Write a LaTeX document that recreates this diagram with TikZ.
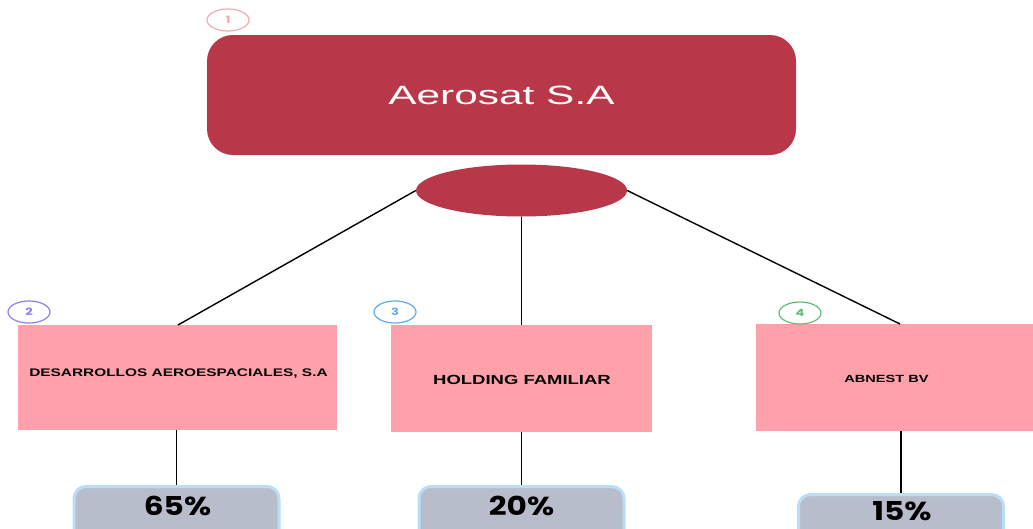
\documentclass[tikz,border=0pt]{standalone}
\usepackage{fontspec}
\setmainfont{Liberation Sans}
\newfontfamily\titlefont[FakeStretch=1.6]{Liberation Sans}
\newfontfamily\labelfont[FakeStretch=1.4]{Liberation Sans}
\newfontfamily\pctfont[FakeStretch=1.2]{Poppins}
\newfontfamily\badgefont[FakeStretch=1.3]{Poppins}
\usetikzlibrary{shapes.geometric}
\definecolor{mainred}{HTML}{B8384A}
\definecolor{pinkbox}{HTML}{FFA1AA}
\definecolor{pctfill}{HTML}{B8BDCC}
\definecolor{pctedge}{HTML}{BCDDF8}
\definecolor{badgeA}{HTML}{F7A9B4}
\definecolor{badgeB}{HTML}{8F80F2}
\definecolor{badgeC}{HTML}{5EABEF}
\definecolor{badgeD}{HTML}{5DBF78}
\tikzset{
  badge/.style={ellipse, draw=#1, text=#1, line width=1.2pt, minimum width=42pt, minimum height=22pt, inner sep=0pt, font=\badgefont\bfseries\fontsize{10}{10}\selectfont},
  entity/.style={rectangle, fill=pinkbox, draw=none, inner sep=0pt},
  elabel/.style={font=\labelfont\bfseries\fontsize{#1}{12}\selectfont},
  pct/.style={rectangle, rounded corners=12pt, fill=pctfill, draw=pctedge, line width=3pt, minimum width=205pt, minimum height=60pt, inner sep=0pt},
  plabel/.style={font=\pctfont\bfseries\fontsize{26}{26}\selectfont},
  link/.style={draw=black, line width=1.4pt}
}
\begin{document}
\begin{tikzpicture}[x=1pt,y=-1pt]
\useasboundingbox (0,0) rectangle (1033,528);
\clip (0,0) rectangle (1033,528);
\fill[white] (0,0) rectangle (1033,528);
% title
\node[rectangle, rounded corners=26pt, fill=mainred, minimum width=589pt, minimum height=120pt, inner sep=0pt, text=white, font=\titlefont\fontsize{26.5}{26.5}\selectfont] (title) at (501.5,95) {Aerosat S.A};
\node[badge=badgeA] (b1) at (228,20) {1};
% hub ellipse
\node[ellipse, fill=mainred, minimum width=211pt, minimum height=52pt, inner sep=0pt] (hub) at (521.5,190.5) {};
% entity boxes
\node[entity, minimum width=319pt, minimum height=105pt] (e1) at (177.5,377.5) {};
\node[elabel=11] (t1) at (178.5,373.5) {DESARROLLOS AEROESPACIALES, S.A};
\node[entity, minimum width=261pt, minimum height=107pt] (e2) at (521.5,378.5) {};
\node[elabel=13.2] (t2) at (522,379.5) {HOLDING FAMILIAR};
\node[entity, minimum width=290pt, minimum height=107pt, anchor=north west] (e3) at (756,324) {};
\node[elabel=10.4] (t3) at (886.5,378.5) {ABNEST BV};
% badges
\node[badge=badgeB] (b2) at (29,312) {2};
\node[badge=badgeC] (b3) at (395,312) {3};
\node[badge=badgeD] (b4) at (800,313) {4};
% connectors
\coordinate (e1top) at (178,325);
\coordinate (e3top) at (900,324);
\draw[link] (hub.west) -- (e1top);
\draw[link] (hub.south) -- (e2.north);
\draw[link] (hub.east) -- (e3top);
% percentage boxes
\node[pct, anchor=north] (p1) at (176.5,485) {};
\node[pct, anchor=north] (p2) at (521.5,485) {};
\node[pct, anchor=north] (p3) at (901,493) {};
\node[plabel] (q1) at (177.5,506) {65\%};
\node[plabel] (q2) at (521.5,506) {20\%};
\node[plabel] (q3) at (902,511) {15\%};
\coordinate (e3bot) at (901,431);
\draw[link, line width=1.8pt] (e1.south -| p1.north) -- (p1.north);
\draw[link, line width=1.8pt] (e2.south) -- (p2.north);
\draw[link, line width=1.8pt] (e3bot) -- (p3.north);
\end{tikzpicture}
\end{document}
